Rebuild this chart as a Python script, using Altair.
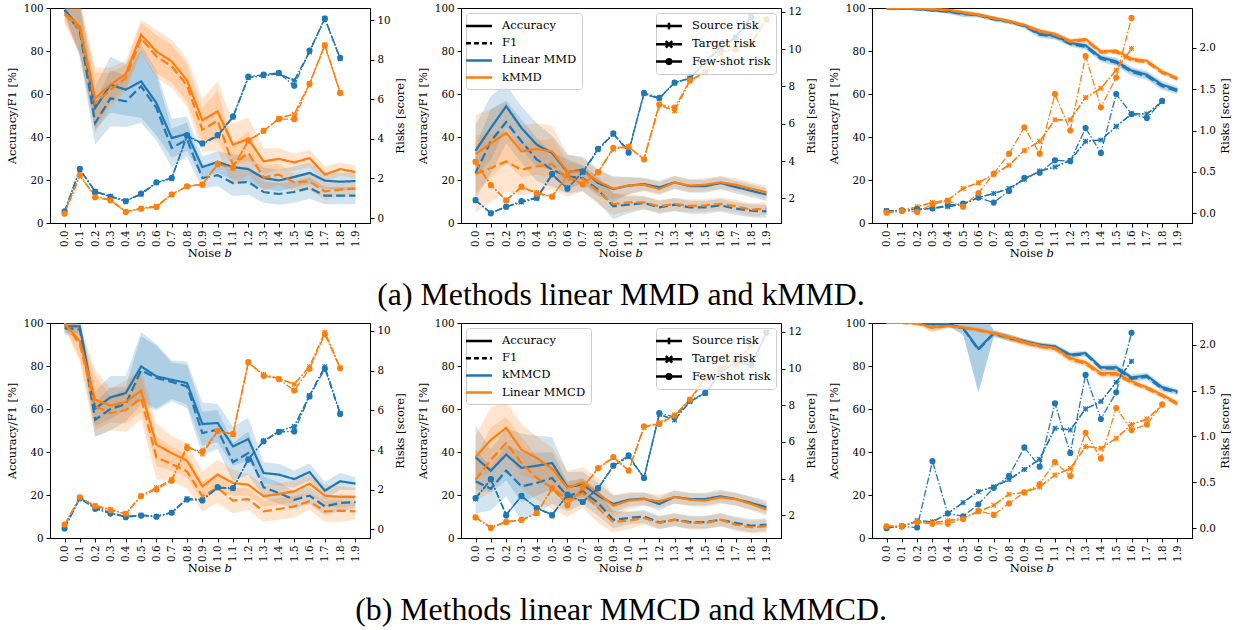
import altair as alt
import pandas as pd

# ---------------- data ----------------
X_VALUES = [0.0, 0.1, 0.2, 0.3, 0.4, 0.5, 0.6, 0.7, 0.8, 0.9,
            1.0, 1.1, 1.2, 1.3, 1.4, 1.5, 1.6, 1.7, 1.8, 1.9]

CAPTIONS = ["(a) Methods linear MMD and kMMD.", "(b) Methods linear MMCD and kMMCD."]
METHODS_A = ["Linear MMD", "kMMD"]      # blue, orange
METHODS_B = ["kMMCD", "Linear MMCD"]    # blue, orange
RISK_LABELS = ["Source risk", "Target risk", "Few-shot risk"]
METRIC_LABELS = ["Accuracy", "F1"]

# ---- (a) left
A1_B_ACC = [99.2, 90.7, 53.5, 64.3, 62.0, 65.9, 55.8, 39.5, 41.5, 26.0, 28.4, 26.0, 25.1, 20.9, 19.8, 21.4, 23.3, 19.7, 19.2, 19.5]
A1_B_F1 = [99.0, 89.0, 46.5, 58.0, 56.6, 63.6, 53.5, 34.9, 38.8, 20.9, 22.2, 18.6, 19.1, 14.4, 13.5, 14.4, 16.3, 12.7, 12.7, 12.7]
A1_B_SD = [2, 12, 10, 13, 12, 17, 15, 9, 8, 5, 5, 6, 6, 5, 5, 5, 5, 4, 4, 4]
A1_O_ACC = [97.7, 91.5, 58.1, 64.3, 69.3, 87.6, 79.8, 75.2, 66.4, 47.8, 51.9, 36.4, 39.1, 28.7, 29.8, 28.2, 30.2, 22.5, 25.1, 23.7]
A1_O_F1 = [97.0, 90.0, 55.8, 62.0, 67.4, 86.0, 77.5, 72.9, 64.0, 43.4, 47.6, 27.1, 32.6, 21.2, 22.5, 18.9, 19.4, 14.7, 15.5, 16.0]
A1_O_SD = [4, 12, 14, 8, 6, 7, 10, 10, 10, 10, 14, 10, 10, 6, 5, 4, 4, 4, 3, 3]
A1_B_SRC = [0.30, 2.45, 1.35, 1.10, 0.88, 1.20, 1.78, 2.00, 4.15, 3.75, 4.15, 5.10, 7.10, 7.20, 7.30, 6.95, 8.40, 10.10, 8.05, None]
A1_B_TGT = [0.30, 2.45, 1.35, 1.10, 0.88, 1.20, 1.78, 2.00, 4.15, 3.75, 4.15, 5.10, 7.10, 7.20, 7.30, 6.95, 8.40, 10.10, 8.05, None]
A1_B_FEW = [0.34, 2.49, 1.32, 1.07, 0.85, 1.24, 1.81, 2.03, 4.19, 3.78, 4.20, 5.14, 7.15, 7.25, 7.34, 6.69, 8.47, 10.08, 8.10, None]
A1_O_SRC = [0.25, 2.15, 1.10, 0.92, 0.33, 0.50, 0.60, 1.20, 1.60, 1.70, 2.70, 2.55, 3.90, 4.40, 5.05, 5.25, 6.80, 8.75, 6.35, None]
A1_O_TGT = [0.25, 2.15, 1.10, 0.92, 0.33, 0.50, 0.60, 1.20, 1.60, 1.70, 2.70, 2.55, 3.90, 4.40, 5.05, 5.25, 6.80, 8.75, 6.35, None]
A1_O_FEW = [0.22, 2.17, 1.05, 0.90, 0.30, 0.47, 0.56, 1.19, 1.61, 1.69, 2.75, 2.54, 3.93, 4.41, 5.00, 5.00, 6.78, 8.73, 6.32, None]

# ---- (a) middle
A2_B_ACC = [33.6, 44.2, 54.3, 44.2, 36.4, 32.6, 23.7, 24.8, 18.6, 15.8, 17.4, 18.1, 16.6, 18.9, 17.1, 17.1, 18.6, 16.7, 15.0, 13.2]
A2_B_F1 = [23.3, 38.0, 47.0, 38.0, 29.5, 24.8, 21.7, 20.9, 15.5, 7.8, 8.5, 9.3, 7.3, 8.5, 7.3, 7.3, 8.2, 6.7, 5.7, 5.4]
A2_B_SD = [12, 15, 10, 10, 10, 8, 8, 6, 6, 6, 4, 3, 3, 3, 3, 3, 3, 3, 3, 3]
A2_O_ACC = [32.1, 37.0, 41.9, 33.3, 34.4, 33.3, 24.0, 24.0, 19.4, 16.0, 17.4, 17.8, 15.8, 18.9, 17.4, 17.8, 18.9, 17.8, 16.0, 14.3]
A2_O_F1 = [22.8, 25.6, 28.7, 24.8, 26.4, 27.4, 20.2, 20.6, 14.7, 8.8, 9.6, 9.6, 7.8, 8.8, 8.0, 8.2, 8.9, 7.8, 6.2, 6.7]
A2_O_SD = [18, 16, 14, 12, 12, 12, 8, 6, 6, 5, 4, 3, 3, 3, 3, 3, 3, 3, 3, 3]
A2_B_SRC = [1.90, 1.22, 1.55, 1.80, 2.00, 3.25, 2.55, 3.40, 4.60, 5.45, 4.55, 7.60, 7.35, 8.20, 8.45, 9.35, 10.05, 10.65, 11.75, None]
A2_B_TGT = [1.90, 1.22, 1.55, 1.80, 2.00, 3.25, 2.55, 3.40, 4.60, 5.45, 4.55, 7.60, 7.35, 8.20, 8.45, 9.35, 10.05, 10.65, 11.75, None]
A2_B_FEW = [1.91, 1.20, 1.55, 1.86, 2.04, 3.32, 2.52, 3.43, 4.66, 5.48, 4.45, 7.66, 7.39, 8.20, 8.41, 9.30, 10.00, 10.60, 11.70, None]
A2_O_SRC = [3.95, 2.70, 1.90, 2.60, 2.30, 2.10, 3.20, 2.75, 3.40, 4.65, 4.75, 4.10, 7.00, 6.70, 8.30, 8.75, 9.85, 10.00, 10.30, 11.60]
A2_O_TGT = [3.95, 2.70, 1.90, 2.60, 2.30, 2.10, 3.20, 2.75, 3.40, 4.65, 4.75, 4.10, 7.00, 6.70, 8.30, 8.75, 9.85, 10.00, 10.30, 11.60]
A2_O_FEW = [3.96, 2.71, 1.89, 2.63, 2.25, 2.09, 3.25, 2.75, 3.41, 4.71, 4.77, 4.09, 7.04, 6.86, 8.32, 8.77, 9.80, 9.98, 10.29, 11.59]

# ---- (a) right
A3_B_ACC = [99.8, 99.7, 99.5, 99.0, 98.5, 97.5, 96.8, 95.0, 93.8, 91.8, 88.0, 87.1, 83.7, 82.6, 77.0, 75.2, 70.9, 69.0, 64.3, 62.0]
A3_B_F1 = [99.8, 99.7, 99.4, 98.8, 98.3, 97.2, 96.5, 94.7, 93.5, 91.5, 87.6, 86.7, 83.2, 82.0, 76.4, 74.6, 70.2, 68.3, 63.6, 61.3]
A3_B_SD = [0.3, 0.3, 0.4, 0.8, 1.0, 1.5, 1.0, 1.0, 1.0, 1.0, 1.5, 1.5, 1.2, 1.5, 1.5, 1.8, 1.8, 1.8, 1.8, 1.5]
A3_O_ACC = [100.0, 99.9, 99.8, 99.5, 99.2, 98.0, 97.0, 95.5, 94.0, 92.2, 89.5, 88.0, 84.8, 85.6, 79.8, 80.2, 76.4, 75.5, 70.5, 67.4]
A3_O_F1 = [100.0, 99.9, 99.7, 99.3, 99.0, 97.8, 96.7, 95.2, 93.7, 91.8, 89.0, 87.5, 84.2, 85.0, 79.2, 79.5, 75.6, 74.8, 69.7, 66.8]
A3_O_SD = [0.2, 0.2, 0.3, 0.5, 0.5, 0.8, 0.8, 0.8, 0.8, 0.8, 0.8, 1.0, 1.0, 1.0, 1.0, 1.0, 1.0, 1.0, 1.0, 0.8]
A3_B_SRC = [0.03, 0.035, 0.05, 0.06, 0.08, 0.11, 0.19, 0.24, 0.30, 0.41, 0.51, 0.56, 0.64, 0.87, 0.885, 1.05, 1.20, 1.20, 1.35, None]
A3_B_TGT = [0.03, 0.035, 0.05, 0.06, 0.08, 0.11, 0.19, 0.24, 0.30, 0.41, 0.51, 0.56, 0.64, 0.87, 0.885, 1.05, 1.20, 1.20, 1.35, None]
A3_B_FEW = [0.028, 0.036, 0.048, 0.06, 0.10, 0.117, 0.19, 0.13, 0.27, 0.43, 0.49, 0.64, 0.63, 1.03, 0.73, 1.44, 1.20, 1.15, 1.36, None]
A3_O_SRC = [0.01, 0.03, 0.08, 0.13, 0.16, 0.30, 0.37, 0.47, 0.58, 0.76, 0.87, 1.13, 1.13, 1.40, 1.51, 1.73, 1.99, None, None, None]
A3_O_TGT = [0.01, 0.03, 0.08, 0.13, 0.16, 0.30, 0.37, 0.47, 0.58, 0.76, 0.87, 1.13, 1.13, 1.40, 1.51, 1.73, 1.99, None, None, None]
A3_O_FEW = [0.008, 0.028, 0.016, 0.11, 0.15, 0.08, 0.245, 0.48, 0.72, 1.04, 0.72, 1.44, 1.00, 1.90, 1.28, 1.64, 2.36, None, None, None]

# ---- (b) left
B1_B_ACC = [98.4, 98.4, 60.2, 65.4, 67.4, 79.8, 75.2, 73.6, 72.1, 53.0, 53.5, 42.6, 46.0, 30.2, 29.5, 27.4, 30.7, 22.0, 26.4, 25.3]
B1_B_F1 = [97.5, 97.0, 55.0, 60.0, 62.3, 78.0, 74.4, 72.6, 70.5, 48.8, 50.4, 35.3, 39.5, 23.6, 20.9, 17.8, 19.7, 14.7, 16.3, 16.7]
B1_B_SD = [3, 3, 8, 10, 8, 16, 15, 9, 10, 10, 9, 9, 10, 5, 5, 4, 4, 4, 4, 3]
B1_O_ACC = [100.0, 91.5, 64.3, 61.6, 63.3, 68.5, 43.4, 39.5, 36.0, 24.0, 29.5, 25.6, 24.8, 19.4, 20.5, 21.7, 25.3, 19.7, 19.1, 19.1]
B1_O_F1 = [100.0, 90.0, 61.2, 58.1, 59.4, 65.1, 37.5, 34.4, 31.0, 19.4, 23.3, 17.4, 18.1, 12.4, 13.5, 14.7, 17.1, 12.4, 12.7, 12.4]
B1_O_SD = [2, 8, 14, 8, 10, 10, 10, 8, 8, 7, 7, 6, 5, 5, 5, 5, 4, 5, 5, 4]
B1_B_SRC = [0.08, 1.60, 1.10, 0.85, 0.65, 0.72, 0.66, 0.86, 1.55, 1.50, 2.10, 2.05, 3.55, 4.45, 4.95, 5.19, 6.75, 8.20, 5.85, None]
B1_B_TGT = [0.08, 1.60, 1.10, 0.85, 0.65, 0.72, 0.66, 0.86, 1.55, 1.50, 2.10, 2.05, 3.55, 4.45, 4.95, 5.19, 6.75, 8.20, 5.85, None]
B1_B_FEW = [0.05, 1.56, 1.04, 0.80, 0.62, 0.70, 0.64, 0.84, 1.51, 1.46, 2.13, 2.09, 3.52, 4.44, 4.91, 4.94, 6.70, 8.09, 5.81, None]
B1_O_SRC = [0.22, 1.60, 1.20, 1.00, 0.80, 1.70, 2.10, 2.50, 4.20, 3.80, 4.95, 4.80, 8.40, 7.80, 7.60, 7.32, 8.20, 9.93, 8.15, None]
B1_O_TGT = [0.22, 1.60, 1.20, 1.00, 0.80, 1.70, 2.10, 2.50, 4.20, 3.80, 4.95, 4.80, 8.40, 7.80, 7.60, 7.32, 8.20, 9.93, 8.15, None]
B1_O_FEW = [0.25, 1.62, 1.17, 0.97, 0.79, 1.68, 2.01, 2.46, 4.10, 3.94, 4.97, 4.81, 8.43, 7.74, 7.57, 7.00, 8.09, 9.83, 8.12, None]

# ---- (b) middle
B2_B_ACC = [37.5, 31.3, 38.8, 32.6, 33.6, 34.9, 23.7, 24.8, 19.7, 15.8, 17.8, 18.3, 15.8, 19.1, 18.1, 18.1, 19.4, 18.1, 16.3, 14.3]
B2_B_F1 = [26.4, 22.9, 31.3, 24.0, 25.6, 27.9, 19.4, 21.7, 16.3, 8.5, 9.3, 10.0, 7.3, 8.5, 7.4, 7.4, 8.5, 7.0, 5.7, 6.2]
B2_B_SD = [15, 10, 12, 16, 14, 12, 7, 6, 6, 4, 3, 3, 3, 3, 3, 3, 3, 3, 3, 3]
B2_O_ACC = [37.7, 45.7, 51.2, 41.1, 37.2, 32.2, 23.3, 25.9, 20.9, 15.0, 17.4, 18.1, 17.1, 19.1, 17.8, 17.4, 18.9, 18.1, 15.8, 13.2]
B2_O_F1 = [27.1, 36.4, 44.2, 34.9, 27.9, 23.3, 17.8, 20.9, 14.0, 7.4, 8.1, 9.3, 7.0, 8.5, 7.0, 7.0, 8.5, 6.2, 5.0, 5.4]
B2_O_SD = [10, 15, 12, 12, 10, 10, 8, 7, 7, 5, 4, 3, 3, 3, 3, 3, 3, 3, 3, 3]
B2_B_SRC = [2.90, 3.95, 2.05, 3.05, 2.40, 2.05, 3.10, 2.75, 3.45, 4.70, 5.20, 4.05, 7.50, 7.20, 8.20, 8.65, 9.80, 10.35, 10.20, 11.95]
B2_B_TGT = [2.90, 3.95, 2.05, 3.05, 2.40, 2.05, 3.10, 2.75, 3.45, 4.70, 5.20, 4.05, 7.50, 7.20, 8.20, 8.65, 9.80, 10.35, 10.20, 11.95]
B2_B_FEW = [2.95, 3.98, 2.00, 3.07, 2.40, 2.00, 3.13, 2.73, 3.49, 4.71, 5.27, 4.04, 7.58, 7.35, 8.25, 8.67, 9.76, 10.40, 10.18, 11.95]
B2_O_SRC = [1.90, 1.35, 1.65, 1.75, 2.10, 3.45, 2.60, 3.50, 4.55, 5.15, 4.45, 6.80, 7.05, 7.45, 8.30, 9.45, 10.05, 10.25, 11.30, None]
B2_O_TGT = [1.90, 1.35, 1.65, 1.75, 2.10, 3.45, 2.60, 3.50, 4.55, 5.15, 4.45, 6.80, 7.05, 7.45, 8.30, 9.45, 10.05, 10.25, 11.30, None]
B2_O_FEW = [1.89, 1.31, 1.64, 1.76, 2.13, 3.49, 2.55, 3.53, 4.58, 5.18, 4.44, 6.85, 6.98, 7.44, 8.31, 9.49, 10.04, 10.22, 11.31, None]

# ---- (b) right
B3_B_ACC = [100.0, 100.0, 100.0, 99.5, 99.5, 97.7, 88.0, 95.3, 93.3, 91.5, 89.9, 89.1, 85.3, 86.0, 79.4, 79.4, 74.7, 75.5, 70.1, 68.2]
B3_B_F1 = [100.0, 100.0, 100.0, 99.4, 99.4, 97.5, 87.5, 95.0, 93.0, 91.2, 89.5, 88.7, 84.8, 85.5, 78.9, 78.8, 74.0, 74.9, 69.4, 67.6]
B3_B_SD = [0.2, 0.2, 0.3, 0.8, 0.8, 3.0, 20.0, 1.5, 1.5, 1.2, 1.2, 1.2, 1.2, 1.2, 1.2, 1.5, 1.5, 1.5, 1.5, 1.2]
B3_O_ACC = [100.0, 100.0, 99.8, 98.0, 98.7, 98.0, 96.9, 95.3, 93.5, 91.2, 89.5, 88.4, 83.7, 81.7, 76.7, 76.7, 72.9, 70.1, 66.7, 62.8]
B3_O_F1 = [100.0, 100.0, 99.7, 97.6, 98.5, 97.8, 96.6, 95.0, 93.0, 90.7, 89.0, 87.9, 83.1, 81.0, 76.0, 76.0, 72.2, 69.4, 66.0, 62.1]
B3_O_SD = [0.2, 0.2, 0.5, 2.0, 0.8, 0.8, 1.0, 1.0, 1.5, 1.5, 1.5, 1.5, 1.5, 1.5, 1.5, 1.5, 1.2, 1.2, 1.2, 1.0]
B3_B_SRC = [0.01, 0.02, 0.08, 0.07, 0.16, 0.28, 0.40, 0.45, 0.53, 0.64, 0.75, 1.09, 1.07, 1.30, 1.38, 1.59, 1.82, None, None, None]
B3_B_TGT = [0.01, 0.02, 0.08, 0.07, 0.16, 0.28, 0.40, 0.45, 0.53, 0.64, 0.75, 1.09, 1.07, 1.30, 1.38, 1.59, 1.82, None, None, None]
B3_B_FEW = [0.00, 0.02, 0.007, 0.73, 0.16, 0.13, 0.26, 0.44, 0.57, 0.88, 0.67, 1.36, 0.82, 1.67, 1.19, 1.48, 2.13, None, None, None]
B3_O_SRC = [0.02, 0.025, 0.07, 0.06, 0.08, 0.11, 0.18, 0.25, 0.37, 0.39, 0.45, 0.58, 0.65, 0.89, 0.87, 0.98, 1.13, 1.19, 1.34, None]
B3_O_TGT = [0.02, 0.025, 0.07, 0.06, 0.08, 0.11, 0.18, 0.25, 0.37, 0.39, 0.45, 0.58, 0.65, 0.89, 0.87, 0.98, 1.13, 1.19, 1.34, None]
B3_O_FEW = [0.02, 0.02, 0.065, 0.047, 0.047, 0.10, 0.19, 0.145, 0.27, 0.39, 0.48, 0.72, 0.57, 1.04, 0.76, 1.31, 1.07, 1.13, 1.35, None]

RISK_DOMAINS = {"A1": [-0.25, 10.62], "A2": [0.68, 12.2], "A3": [-0.117, 2.48],
                "B1": [-0.43, 10.4], "B2": [0.77, 12.48], "B3": [-0.107, 2.236]}
RISK_TICKS = {"A1": [0, 2, 4, 6, 8, 10], "A2": [2, 4, 6, 8, 10, 12], "A3": [0.0, 0.5, 1.0, 1.5, 2.0],
              "B1": [0, 2, 4, 6, 8, 10], "B2": [2, 4, 6, 8, 10, 12], "B3": [0.0, 0.5, 1.0, 1.5, 2.0]}
RISK_FORMAT = {"A1": "d", "A2": "d", "A3": ".1f", "B1": "d", "B2": "d", "B3": ".1f"}
ACC_TICKS = [0, 20, 40, 60, 80, 100]

# ---------------- styling ----------------
BLUE = "#1f77b4"
ORANGE = "#ff7f0e"
FONT = "DejaVu Serif"
CAP_FONT = "Liberation Serif"
W, H = 320, 215

P_X = "M-1,-1L1,1M-1,1L1,-1"
P_PLUS = "M-1,0H1M0,-1V1"
L_SRC = "M-2,0H2M0,-0.5V0.5"
L_TGT = "M-2,0H2M-0.5,-0.5L0.5,0.5M-0.5,0.5L0.5,-0.5"
L_FEW = ("M-2,0H2M0.35,0A0.35,0.35 0 1,1 -0.35,0A0.35,0.35 0 1,1 0.35,0"
         "M0.12,0A0.12,0.12 0 1,1 -0.12,0A0.12,0.12 0 1,1 0.12,0")


def line_frame(b_acc, b_f1, b_sd, o_acc, o_f1, o_sd):
    rows = []
    for m, acc, f1, sd in (("b", b_acc, b_f1, b_sd), ("o", o_acc, o_f1, o_sd)):
        for metric, vals in (("acc", acc), ("f1", f1)):
            for x, v, s in zip(X_VALUES, vals, sd):
                rows.append(dict(x=x, m=m, metric=metric, s=m + metric, v=v, lo=v - s, hi=v + s))
    return pd.DataFrame(rows)


def risk_frame(series):
    rows = []
    for (m, r), vals in series.items():
        for x, v in zip(X_VALUES, vals):
            if v is not None:
                rows.append(dict(x=x, m=m, r=r, s=m + r, v=v))
    return pd.DataFrame(rows)


def one_row():
    return alt.Chart(pd.DataFrame({"k": [0]}))


def legend(orient, offset, row_pad, **kw):
    return alt.Legend(title=None, orient=orient, offset=offset, padding=5,
                      fillColor="rgba(255,255,255,0.8)", strokeColor="#cccccc", cornerRadius=3,
                      labelFont=FONT, labelFontSize=11.5, labelColor="black",
                      symbolSize=169, symbolStrokeWidth=2.5, labelOffset=15,
                      rowPadding=row_pad, **kw)


def panel(key, lines_df, risk_df, methods=None, caption=None):
    x = alt.X("x:Q", scale=alt.Scale(domain=[-0.095, 1.995], nice=False, zero=False),
              axis=alt.Axis(values=X_VALUES, format=".1f", labelAngle=270, title=None,
                            labelFlush=False, labelOverlap=False))
    yl_scale = alt.Scale(domain=[0, 100], nice=False, zero=False)
    yl_axis = alt.Axis(values=ACC_TICKS, title="Accuracy/F1 [%]", orient="left")
    col = alt.condition(alt.datum.m == "b", alt.value(BLUE), alt.value(ORANGE))

    base = alt.Chart(lines_df)
    bands = base.mark_area(opacity=0.2, clip=True).encode(
        x=x, y=alt.Y("lo:Q", scale=yl_scale, axis=yl_axis), y2="hi:Q", color=col, detail="s:N")
    lines = base.mark_line(strokeWidth=2.2, clip=True).encode(
        x=x, y=alt.Y("v:Q", scale=yl_scale, axis=yl_axis), color=col,
        strokeDash=alt.condition(alt.datum.metric == "f1", alt.value([9, 4]), alt.value([1, 0])),
        detail="s:N")
    left_layers = [bands, lines]

    if methods is not None:
        leg_labels = METRIC_LABELS + methods
        L1 = legend("top-left", 5, 3.2, symbolType="M-2,0H2")
        leg1 = alt.Chart(pd.DataFrame({"leg": leg_labels})).mark_line(clip=True).encode(
            x=alt.value(-50), y=alt.value(-50),
            color=alt.Color("leg:N", scale=alt.Scale(domain=leg_labels, range=["black", "black", BLUE, ORANGE]), legend=L1),
            strokeDash=alt.StrokeDash("leg:N", scale=alt.Scale(domain=leg_labels, range=[[1, 0], [5, 3], [1, 0], [1, 0]]), legend=L1))
        L2 = legend("top-right", 5, 0.3, symbolStrokeColor="black")
        leg2 = alt.Chart(pd.DataFrame({"risk": RISK_LABELS})).mark_point(
            clip=True, filled=False, color="black", strokeWidth=2.5, opacity=1).encode(
            x=alt.value(-50), y=alt.value(-50),
            shape=alt.Shape("risk:N", scale=alt.Scale(domain=RISK_LABELS, range=[L_SRC, L_TGT, L_FEW]), legend=L2))
        left_layers += [leg1, leg2]

    left = alt.layer(*left_layers)

    yr_scale = alt.Scale(domain=RISK_DOMAINS[key], nice=False, zero=False)
    yr_axis = alt.Axis(values=RISK_TICKS[key], format=RISK_FORMAT[key], title="Risks [score]",
                       orient="right", titleAngle=270, titleBaseline="top", titlePadding=4)
    yr = alt.Y("v:Q", scale=yr_scale, axis=yr_axis)
    rbase = alt.Chart(risk_df)
    rlines = rbase.mark_line(strokeWidth=1.3, strokeDash=[7, 2, 1.5, 2]).encode(
        x=x, y=yr, color=col, detail="s:N")
    src = rbase.transform_filter(alt.datum.r == "src").mark_point(
        shape=P_PLUS, filled=False, size=25, strokeWidth=1.2, opacity=1).encode(x=x, y=yr, color=col)
    tgt = rbase.transform_filter(alt.datum.r == "tgt").mark_point(
        shape=P_X, filled=False, size=22, strokeWidth=1.2, opacity=1).encode(x=x, y=yr, color=col)
    few = rbase.transform_filter(alt.datum.r == "few").mark_point(
        shape="circle", filled=True, size=38, opacity=1).encode(x=x, y=yr, color=col)
    right = alt.layer(rlines, src, tgt, few)

    texts = [
        one_row().mark_text(font=FONT, fontSize=11.5, align="right", baseline="middle", color="black").encode(
            x=alt.value(W / 2 + 11), y=alt.value(H + 31), text=alt.value("Noise")),
        one_row().mark_text(font=FONT, fontSize=11.5, fontStyle="italic", align="left", baseline="middle", color="black").encode(
            x=alt.value(W / 2 + 14.5), y=alt.value(H + 31), text=alt.value("b")),
    ]
    if caption is not None:
        texts.append(one_row().mark_text(font=CAP_FONT, fontSize=31.8, align="center", baseline="middle", color="black").encode(
            x=alt.value(W / 2), y=alt.value(H + 72), text=alt.value(caption)))

    return alt.layer(left, right, *texts).resolve_scale(y="independent").properties(width=W, height=H)


def make(key, arrs, methods=None, caption=None):
    ldf = line_frame(*arrs[:6])
    rdf = risk_frame({("b", "src"): arrs[6], ("b", "tgt"): arrs[7], ("b", "few"): arrs[8],
                      ("o", "src"): arrs[9], ("o", "tgt"): arrs[10], ("o", "few"): arrs[11]})
    return panel(key, ldf, rdf, methods, caption)


pA1 = make("A1", [A1_B_ACC, A1_B_F1, A1_B_SD, A1_O_ACC, A1_O_F1, A1_O_SD,
                  A1_B_SRC, A1_B_TGT, A1_B_FEW, A1_O_SRC, A1_O_TGT, A1_O_FEW])
pA2 = make("A2", [A2_B_ACC, A2_B_F1, A2_B_SD, A2_O_ACC, A2_O_F1, A2_O_SD,
                  A2_B_SRC, A2_B_TGT, A2_B_FEW, A2_O_SRC, A2_O_TGT, A2_O_FEW], METHODS_A, CAPTIONS[0])
pA3 = make("A3", [A3_B_ACC, A3_B_F1, A3_B_SD, A3_O_ACC, A3_O_F1, A3_O_SD,
                  A3_B_SRC, A3_B_TGT, A3_B_FEW, A3_O_SRC, A3_O_TGT, A3_O_FEW])
pB1 = make("B1", [B1_B_ACC, B1_B_F1, B1_B_SD, B1_O_ACC, B1_O_F1, B1_O_SD,
                  B1_B_SRC, B1_B_TGT, B1_B_FEW, B1_O_SRC, B1_O_TGT, B1_O_FEW])
pB2 = make("B2", [B2_B_ACC, B2_B_F1, B2_B_SD, B2_O_ACC, B2_O_F1, B2_O_SD,
                  B2_B_SRC, B2_B_TGT, B2_B_FEW, B2_O_SRC, B2_O_TGT, B2_O_FEW], METHODS_B, CAPTIONS[1])
pB3 = make("B3", [B3_B_ACC, B3_B_F1, B3_B_SD, B3_O_ACC, B3_O_F1, B3_O_SD,
                  B3_B_SRC, B3_B_TGT, B3_B_FEW, B3_O_SRC, B3_O_TGT, B3_O_FEW])

chart = alt.concat(pA1, pA2, pA3, pB1, pB2, pB3, columns=3,
                   spacing={"row": 100, "column": 91}, bounds="flush").resolve_scale(
    color="independent", strokeDash="independent", shape="independent"
).properties(
    padding={"left": 5, "top": 2, "right": 0, "bottom": 0}
).configure(font=FONT).configure_axis(
    labelFont=FONT, titleFont=FONT, labelFontSize=10.3, titleFontSize=11.5, titleFontWeight="normal",
    labelColor="black", titleColor="black", domainColor="black", tickColor="black",
    tickSize=4, domainWidth=1, tickWidth=1, grid=False, labelPadding=3, titlePadding=6
).configure_view(stroke="black", strokeWidth=1).configure_legend(symbolStrokeColor="black")

chart.save("out.html", embed_options={"renderer": "svg", "actions": False})
